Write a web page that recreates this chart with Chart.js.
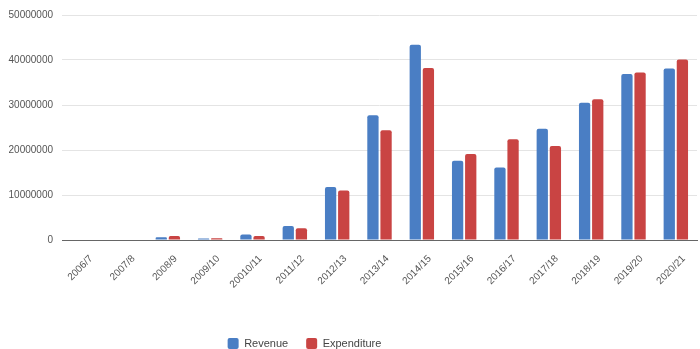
<!DOCTYPE html>
<html>
<head>
<meta charset="utf-8">
<script src="https://cdn.jsdelivr.net/npm/chart.js@4"></script>
<style>
  html, body { margin: 0; padding: 0; background: #fff; }
  #wrap { width: 700px; height: 349px; }
</style>
</head>
<body>
<div id="wrap"><canvas id="chart"></canvas></div>
<script>
// financial years
const years = ['2006/7', '2007/8', '2008/9', '2009/10', '20010/11', '2011/12', '2012/13', '2013/14',
    '2014/15', '2015/16', '2016/17', '2017/18', '2018/19', '2019/20', '2020/21']

const revenue = [0, 0, 600000, 350000, 1200000, 3100000, 11800000, 27700000,
    43400000, 17600000, 16100000, 24700000, 30500000, 36900000, 38100000]
const expenditure = [0, 0, 900000, 400000, 900000, 2600000, 11000000, 24400000,
    38200000, 19100000, 22400000, 20900000, 31300000, 37200000, 40100000]

const yTicks = [0, 10000000, 20000000, 30000000, 40000000, 50000000]

Chart.defaults.font.family = '"Liberation Sans", Arial, sans-serif'
Chart.defaults.color = '#666'

// the legend in the original is centred a bit left of the page middle
const shiftLegend = {
    id: 'shiftLegend',
    afterLayout(chart) {
        if (chart.legend) chart.legend.right -= 88
    }
}

const canvas = document.getElementById('chart')
const myChart = new Chart(canvas, {
    type: 'bar',
    data: {
        labels: years,
        datasets: [
            {
                label: 'Revenue',
                data: revenue,
                backgroundColor: '#4a7ec4',
                borderRadius: 2,
                categoryPercentage: 0.62,
                barPercentage: 0.86
            },
            {
                label: 'Expenditure',
                data: expenditure,
                backgroundColor: '#c94443',
                borderRadius: 2,
                categoryPercentage: 0.62,
                barPercentage: 0.86
            }
        ]
    },
    options: {
        responsive: true,
        maintainAspectRatio: false,
        animation: false,
        // legend sits low in the original, so let it spill below the padding
        layout: { padding: { top: 11, right: 3, left: 0, bottom: -10 } },
        scales: {
            x: {
                grid: { display: false },
                border: { color: '#666', width: 1 },
                ticks: {
                    color: '#555',
                    font: { size: 10 },
                    maxRotation: 45,
                    minRotation: 45,
                    autoSkip: false,
                    padding: 5,
                    labelOffset: 8
                },
                afterFit: (scale) => { scale.height = 80 }
            },
            y: {
                min: 0,
                max: 50000000,
                afterBuildTicks: (scale) => { scale.ticks = yTicks.map(v => ({ value: v })) },
                grid: { color: '#e4e4e4', drawTicks: false },
                border: { display: false },
                ticks: {
                    color: '#555',
                    font: { size: 10 },
                    padding: 9,
                    callback: (v) => String(v)
                },
                afterFit: (scale) => { scale.width = 62 }
            }
        },
        plugins: {
            legend: {
                position: 'bottom',
                labels: {
                    color: '#444',
                    font: { size: 11 },
                    boxWidth: 11,
                    boxHeight: 11,
                    padding: 18,
                    useBorderRadius: true,
                    borderRadius: 2
                }
            },
            tooltip: { enabled: false }
        }
    },
    plugins: [shiftLegend]
})
</script>
</body>
</html>
